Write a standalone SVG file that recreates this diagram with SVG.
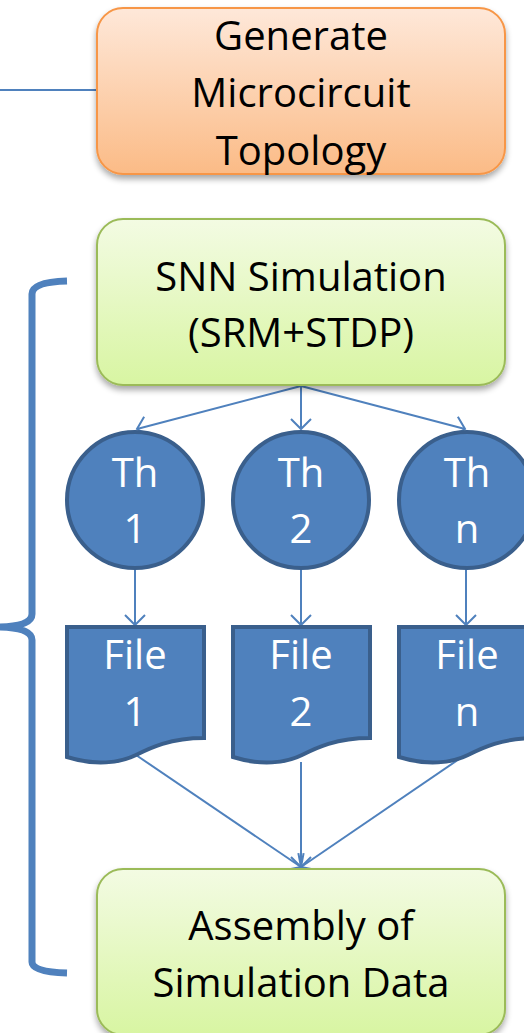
<svg xmlns="http://www.w3.org/2000/svg" width="524" height="1033" viewBox="0 0 524 1033">
  <defs>
    <linearGradient id="gOrange" x1="0" y1="0" x2="0" y2="1">
      <stop offset="0" stop-color="#fee8d9"/>
      <stop offset="1" stop-color="#fbbb86"/>
    </linearGradient>
    <linearGradient id="gGreen" x1="0" y1="0" x2="0" y2="1">
      <stop offset="0" stop-color="#f3fbe3"/>
      <stop offset="1" stop-color="#d8f5a2"/>
    </linearGradient>
    <filter id="shadow" x="-10%" y="-10%" width="120%" height="130%">
      <feGaussianBlur in="SourceAlpha" stdDeviation="3"/>
      <feOffset dx="0" dy="4" result="b"/>
      <feComponentTransfer><feFuncA type="linear" slope="0.35"/></feComponentTransfer>
      <feMerge><feMergeNode/><feMergeNode in="SourceGraphic"/></feMerge>
    </filter>
    <marker id="arrow" viewBox="0 0 24 24" refX="12" refY="12" markerWidth="24" markerHeight="24" markerUnits="userSpaceOnUse" orient="auto">
      <path d="M2,2 L12,12 L2,22" fill="none" stroke="#4f81bd" stroke-width="2"/>
    </marker>
    <style>
      .lbl { font-family: "Open Sans", Lato, "Liberation Sans", sans-serif; font-size: 40px; text-anchor: middle; font-variant-ligatures: none; }
      .dark { fill: #000; }
      .light { fill: #fff; }
      .conn { stroke: #4f81bd; stroke-width: 2; fill: none; }
      .blue { fill: #4f81bd; stroke: #3a5f8c; stroke-width: 4; }
    </style>
  </defs>

  <!-- left connector into the topology box, and the brace grouping the simulation stage -->
  <g id="connectors">
    <line class="conn" x1="0" y1="90" x2="97" y2="90"/>
    <path d="M67,281 Q32,282 32,294 L32,614 Q32,626 0,627 Q32,628 32,640 L32,962 Q32,972 67,973" fill="none" stroke="#4f81bd" stroke-width="7"/>
    <line class="conn" x1="301" y1="386" x2="137" y2="429" marker-end="url(#arrow)"/>
    <line class="conn" x1="301" y1="386" x2="301" y2="429" marker-end="url(#arrow)"/>
    <line class="conn" x1="301" y1="386" x2="465" y2="429" marker-end="url(#arrow)"/>
    <line class="conn" x1="135" y1="568" x2="135" y2="625" marker-end="url(#arrow)"/>
    <line class="conn" x1="301" y1="568" x2="301" y2="625" marker-end="url(#arrow)"/>
    <line class="conn" x1="466" y1="568" x2="466" y2="625" marker-end="url(#arrow)"/>
    <line class="conn" x1="136" y1="755" x2="301" y2="867" marker-end="url(#arrow)"/>
    <line class="conn" x1="301" y1="762" x2="301" y2="867" marker-end="url(#arrow)"/>
    <line class="conn" x1="465" y1="755" x2="301" y2="867" marker-end="url(#arrow)"/>
  </g>

  <g id="topology">
    <rect x="97" y="8" width="408" height="166" rx="26" fill="url(#gOrange)" stroke="#f79646" stroke-width="2" filter="url(#shadow)"/>
    <text class="lbl dark" x="301" y="50">Generate</text>
    <text class="lbl dark" x="301" y="107">Microcircuit</text>
    <text class="lbl dark" x="301" y="165">Topology</text>
  </g>

  <g id="simulation">
    <rect x="97" y="219" width="408" height="166" rx="26" fill="url(#gGreen)" stroke="#9bbb59" stroke-width="2" filter="url(#shadow)"/>
    <text class="lbl dark" x="301" y="291">SNN Simulation</text>
    <text class="lbl dark" x="301" y="347">(SRM+STDP)</text>
  </g>

  <g id="thread1">
    <circle class="blue" cx="135" cy="500" r="68"/>
    <text class="lbl light" x="135" y="487">Th</text>
    <text class="lbl light" x="135" y="543">1</text>
  </g>
  <g id="thread2">
    <circle class="blue" cx="301" cy="500" r="68"/>
    <text class="lbl light" x="301" y="487">Th</text>
    <text class="lbl light" x="301" y="543">2</text>
  </g>
  <g id="threadn">
    <circle class="blue" cx="467" cy="500" r="68"/>
    <text class="lbl light" x="467" y="487">Th</text>
    <text class="lbl light" x="467" y="543">n</text>
  </g>

  <g id="file1">
    <path class="blue" d="M67,627 L204,627 L204,738 C170,738 150,748 136,755 C120,763 95,766 67,757 Z"/>
    <text class="lbl light" x="135" y="669">File</text>
    <text class="lbl light" x="135" y="726">1</text>
  </g>
  <g id="file2">
    <path class="blue" d="M233,627 L370,627 L370,738 C336,738 316,748 302,755 C286,763 261,766 233,757 Z"/>
    <text class="lbl light" x="301" y="669">File</text>
    <text class="lbl light" x="301" y="726">2</text>
  </g>
  <g id="filen">
    <path class="blue" d="M399,627 L536,627 L536,738 C502,738 482,748 468,755 C452,763 427,766 399,757 Z"/>
    <text class="lbl light" x="467" y="669">File</text>
    <text class="lbl light" x="467" y="726">n</text>
  </g>

  <g id="assembly">
    <rect x="97" y="869" width="408" height="166" rx="26" fill="url(#gGreen)" stroke="#9bbb59" stroke-width="2" filter="url(#shadow)"/>
    <text class="lbl dark" x="301" y="940">Assembly of</text>
    <text class="lbl dark" x="301" y="997">Simulation Data</text>
  </g>
</svg>
